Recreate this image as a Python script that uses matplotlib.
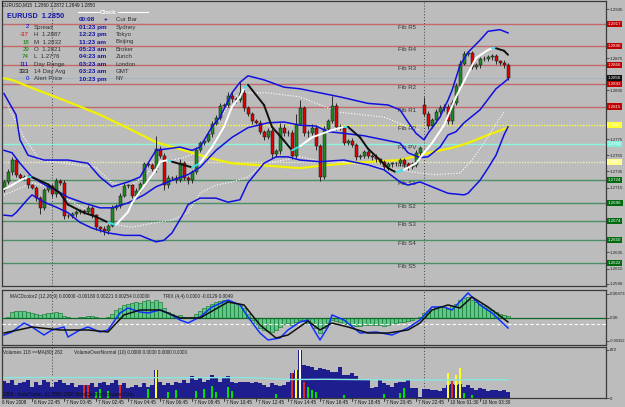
import matplotlib.pyplot as plt
from matplotlib.transforms import blended_transform_factory

plt.rcParams['font.family'] = ['Liberation Sans', 'DejaVu Sans']

W, H = 625, 407
BG = '#bcbcbc'

# ---- price data (EURUSD M15) ----
closes = [1.2722, 1.2734, 1.2749, 1.2731, 1.2727, 1.2728, 1.2718, 1.2715, 1.2702, 1.2690,
          1.2712, 1.2717, 1.2707, 1.2723, 1.2721, 1.2680, 1.2680, 1.2682, 1.2685, 1.2686,
          1.2685, 1.2690, 1.2681, 1.2666, 1.2664, 1.2661, 1.2668, 1.2690, 1.2692, 1.2705,
          1.2717, 1.2718, 1.2705, 1.2711, 1.2719, 1.2744, 1.2743, 1.2738, 1.2763, 1.2754,
          1.2718, 1.2727, 1.2727, 1.2724, 1.2745, 1.2727, 1.2724, 1.2734, 1.2761, 1.2770,
          1.2773, 1.2781, 1.2794, 1.2801, 1.2816, 1.2817, 1.2828, 1.2824, 1.2823, 1.2832,
          1.2813, 1.2806, 1.2797, 1.2795, 1.2784, 1.2777, 1.2785, 1.2756, 1.2760, 1.2789,
          1.2782, 1.2783, 1.2754, 1.2794, 1.2813, 1.2782, 1.2783, 1.2789, 1.2766, 1.2728,
          1.2787, 1.2797, 1.2816, 1.2790, 1.2789, 1.2770, 1.2773, 1.2768, 1.2753, 1.2754,
          1.2759, 1.2754, 1.2753, 1.2750, 1.2747, 1.2740, 1.2744, 1.2745, 1.2745, 1.2749,
          1.2744, 1.2740, 1.2743, 1.2758, 1.2764, 1.2806, 1.2791, 1.2798, 1.2808, 1.2813,
          1.2815, 1.2797, 1.2819, 1.2840, 1.2868, 1.2880, 1.2881, 1.2864, 1.2866, 1.2874,
          1.2874, 1.2876, 1.2877, 1.2871, 1.2869, 1.2866, 1.2850]
first_open = 1.2712
monday_bar = 105
monday_open = 1.2817

# wicks beyond the body, in pips
wick_up = [2, 4, 4, 2, 2, 3, 2, 2, 2, 3,
           3, 2, 3, 4, 2, 3, 2, 3, 2, 3,
           2, 3, 2, 2, 2, 3, 2, 4, 3, 3,
           4, 2, 2, 3, 3, 3, 3, 2, 16, 3,
           4, 3, 2, 3, 5, 3, 2, 3, 4, 3,
           3, 4, 3, 4, 4, 2, 5, 5, 3, 14,
           4, 3, 2, 3, 3, 2, 3, 4, 3, 6,
           4, 3, 3, 12, 10, 3, 3, 4, 3, 3,
           4, 3, 12, 3, 3, 2, 2, 3, 2, 2,
           2, 2, 2, 3, 2, 2, 2, 2, 2, 3,
           2, 2, 3, 3, 2, 10, 3, 3, 4, 4,
           3, 3, 4, 4, 5, 4, 3, 3, 3, 2,
           3, 3, 3, 3, 2, 3, 3]
wick_dn = [3, 2, 3, 3, 2, 3, 3, 2, 3, 8,
           3, 2, 3, 3, 3, 4, 3, 2, 3, 2,
           3, 2, 3, 3, 4, 4, 3, 2, 3, 2,
           2, 3, 3, 2, 3, 2, 3, 3, 4, 3,
           6, 3, 3, 3, 2, 3, 4, 3, 2, 2,
           2, 2, 3, 2, 2, 3, 2, 3, 3, 2,
           3, 3, 4, 2, 3, 3, 2, 4, 3, 3,
           3, 3, 4, 3, 2, 3, 4, 3, 4, 5,
           3, 3, 2, 4, 3, 3, 3, 3, 4, 3,
           3, 3, 4, 3, 3, 3, 3, 3, 3, 3,
           3, 3, 2, 2, 3, 3, 4, 3, 3, 3,
           3, 4, 3, 2, 2, 2, 3, 3, 3, 3,
           3, 3, 3, 3, 3, 3, 2]

# ---- indicators ----
bb_up_idx = [0, 3, 4, 6, 10, 16, 21, 24, 27, 31, 34, 36, 38, 44, 47, 49, 52, 54, 57, 59,
             61, 65, 70, 74, 78, 84, 91, 96, 99, 101, 103, 105, 106, 109, 110, 111, 112,
             114, 116, 119, 121, 124, 126]
bb_up = [1.2831, 1.2805, 1.2774, 1.2755, 1.2749, 1.2749, 1.2745, 1.2728, 1.2716, 1.2722,
         1.2728, 1.2745, 1.2761, 1.2765, 1.2761, 1.2765, 1.2790, 1.2802, 1.2832, 1.2845,
         1.2853, 1.2848, 1.2839, 1.2837, 1.2833, 1.2827, 1.2819, 1.2817, 1.2811, 1.2796,
         1.2782, 1.2774, 1.2782, 1.2802, 1.2813, 1.2823, 1.2835, 1.2866, 1.2882, 1.2897,
         1.2908, 1.2910, 1.2906]
bb_mid_idx = [0, 2, 4, 7, 11, 13, 16, 20, 24, 27, 31, 35, 38, 42, 46, 49, 53, 57, 61, 66,
              70, 74, 78, 81, 85, 90, 95, 99, 101, 104, 106, 109, 111, 113, 115, 119, 123, 126]
bb_mid = [1.2761, 1.2758, 1.2745, 1.2728, 1.2716, 1.2712, 1.2703, 1.2696, 1.2690, 1.2690,
          1.2696, 1.2706, 1.2716, 1.2724, 1.2731, 1.2740, 1.2761, 1.2777, 1.2789, 1.2795,
          1.2796, 1.2792, 1.2791, 1.2784, 1.2782, 1.2779, 1.2774, 1.2770, 1.2758, 1.2752,
          1.2753, 1.2765, 1.2780, 1.2784, 1.2795, 1.2811, 1.2837, 1.2849]
bb_lo_idx = [0, 2, 3, 6, 7, 10, 13, 16, 19, 22, 26, 30, 34, 38, 40, 42, 45, 46, 49, 53,
             56, 59, 61, 65, 68, 71, 74, 79, 85, 91, 95, 99, 101, 104, 107, 111, 115, 116,
             119, 121, 123, 125, 126]
bb_lo = [1.2681, 1.2680, 1.2684, 1.2701, 1.2706, 1.2697, 1.2691, 1.2684, 1.2672, 1.2665,
         1.2659, 1.2656, 1.2656, 1.2648, 1.2650, 1.2659, 1.2684, 1.2694, 1.2702, 1.2702,
         1.2697, 1.2700, 1.2721, 1.2745, 1.2753, 1.2753, 1.2749, 1.2747, 1.2749, 1.2743,
         1.2737, 1.2722, 1.2718, 1.2722, 1.2716, 1.2708, 1.2706, 1.2708, 1.2724, 1.2739,
         1.2755, 1.2780, 1.2790]
ma_idx = [0, 2, 7, 16, 24, 32, 38, 45, 51, 57, 66, 74, 79, 86, 95, 99, 107, 112, 116, 121, 126]
ma_val = [1.2850, 1.2848, 1.2838, 1.2821, 1.2805, 1.2786, 1.2771, 1.2761, 1.2752, 1.2745,
          1.2742, 1.2739, 1.2742, 1.2745, 1.2748, 1.2749, 1.2759, 1.2764, 1.2770, 1.2780,
          1.2789]
# trend line: W = rising (white), K = falling (black), C = turn (cyan)
hull_idx = [0, 2, 4, 6, 7, 11, 14, 16, 20, 23, 26, 28, 31, 32, 35, 38, 39, 41, 42, 47,
            49, 52, 55, 57, 59, 60, 61, 65, 67, 70, 72, 74, 77, 82, 85, 86, 89, 91, 94, 96,
            98, 100, 103, 105, 107, 110, 113, 116, 118, 121, 122, 123, 125, 126]
hull_val = [1.2713, 1.2718, 1.2724, 1.2728, 1.2728, 1.2719, 1.2708, 1.2694, 1.2684, 1.2679,
            1.2672, 1.2669, 1.2685, 1.2696, 1.2717, 1.2737, 1.2747, 1.2749, 1.2747, 1.2740,
            1.2745, 1.2765, 1.2790, 1.2815, 1.2827, 1.2838, 1.2842, 1.2817, 1.2790, 1.2773,
            1.2761, 1.2766, 1.2777, 1.2786, 1.2790, 1.2790, 1.2777, 1.2763, 1.2749, 1.2739,
            1.2734, 1.2737, 1.2745, 1.2758, 1.2770, 1.2792, 1.2827, 1.2856, 1.2875, 1.2885,
            1.2887, 1.2887, 1.2884, 1.2879]
hull_dir = ['W', 'W', 'W', 'C', 'K', 'K', 'K', 'K', 'K', 'K',
            'C', 'W', 'W', 'W', 'W', 'W', 'W', 'C', 'K', 'C',
            'W', 'W', 'W', 'W', 'W', 'C', 'K', 'K', 'K', 'K',
            'C', 'W', 'W', 'W', 'C', 'K', 'K', 'K', 'K', 'K',
            'C', 'W', 'W', 'W', 'W', 'W', 'W', 'W', 'W', 'W',
            'C', 'K', 'K', 'K']
dot_up_idx = [1, 5, 9, 18, 23, 27, 31, 35, 38, 45, 48, 52, 57, 59, 66, 74, 78, 84, 95, 101, 104]
dot_up = [1.2815, 1.2777, 1.2749, 1.2743, 1.2740, 1.2721, 1.2716, 1.2728, 1.2745, 1.2752,
          1.2758, 1.2786, 1.2823, 1.2832, 1.2832, 1.2827, 1.2819, 1.2808, 1.2802, 1.2790,
          1.2786]
dot_dn_idx = [0, 3, 7, 11, 16, 21, 26, 32, 37, 42, 46, 49, 53, 57, 61, 65, 70, 74, 78, 84,
              90, 98, 104, 108, 114, 117, 120, 122, 125]
dot_dn = [1.2706, 1.2712, 1.2721, 1.2716, 1.2700, 1.2687, 1.2671, 1.2666, 1.2671, 1.2675,
          1.2684, 1.2708, 1.2718, 1.2722, 1.2728, 1.2745, 1.2749, 1.2753, 1.2749, 1.2747,
          1.2743, 1.2737, 1.2733, 1.2731, 1.2733, 1.2749, 1.2770, 1.2786, 1.2808]

# ---- fibonacci pivot levels ----
fib_names = ['Fib R5', 'Fib R4', 'Fib R3', 'Fib R2', 'Fib R1', 'Fib R0', 'Fib PV', 'Fib S0',
             'Fib S1', 'Fib S2', 'Fib S3', 'Fib S4', 'Fib S5']
fib_levels = [1.2917, 1.2890, 1.2866, 1.2843, 1.2815, 1.2792, 1.2769, 1.2747,
              1.2724, 1.2696, 1.2674, 1.2650, 1.2622]
fib_kind = ['R', 'R', 'R', 'R', 'R', 'Y', 'P', 'Q', 'S', 'S', 'S', 'S', 'S']
last_price = 1.2850
price_ticks = [1.2935, 1.2875, 1.2835, 1.2775, 1.2755, 1.2735, 1.2715,
               1.2635, 1.2615, 1.2596]

# ---- MACD / TRIX panel ----
macd_hist = [0.0, 0.00016, 0.00093, 0.00109, 0.00109, 0.00109, 0.00093, 0.00078, 0.00062, 0.00047,
             0.00062, 0.00078, 0.00078, 0.00093, 0.00078, 0.00031, 0.00016, 0.0, 0.0, 0.00016,
             0.00016, 0.00031, 0.00031, 0.00016, 0.0, 0.0, 0.00016, 0.00062, 0.00124, 0.00155,
             0.00202, 0.00217, 0.00233, 0.00248, 0.00233, 0.00264, 0.00279, 0.00248, 0.00279, 0.00248,
             0.00155, 0.00093, 0.00062, 0.00031, 0.00047, 0.00016, 0.0, 0.00016, 0.00062, 0.00109,
             0.00155, 0.00186, 0.00217, 0.00248, 0.00264, 0.00279, 0.00264, 0.00248, 0.00233, 0.00217,
             0.00155, 0.00062, -0.00031, -0.00093, -0.00155, -0.00186, -0.00202, -0.00217, -0.00186, -0.00140,
             -0.00093, -0.00078, -0.00109, -0.00062, -0.00031, -0.00047, -0.00078, -0.00093, -0.00155, -0.00233,
             -0.00155, -0.00078, -0.00031, -0.00047, -0.00062, -0.00093, -0.00093, -0.00109, -0.00124, -0.00124,
             -0.00109, -0.00109, -0.00109, -0.00109, -0.00109, -0.00124, -0.00109, -0.00093, -0.00078, -0.00062,
             -0.00062, -0.00047, -0.00031, 0.0, 0.00016, 0.00078, 0.00109, 0.00140, 0.00171, 0.00186,
             0.00171, 0.00140, 0.00186, 0.00217, 0.00279, 0.00310, 0.00326, 0.00279, 0.00248, 0.00217,
             0.00186, 0.00155, 0.00124, 0.00093, 0.00062, 0.00047, 0.00031]
trix_idx = [0, 2, 5, 7, 10, 12, 15, 16, 19, 21, 24, 26, 29, 31, 34, 36, 39, 41, 44, 46,
            49, 52, 56, 59, 61, 64, 66, 69, 71, 74, 76, 79, 81, 82, 85, 89, 93, 97, 101, 104,
            107, 110, 112, 116, 119, 122, 126]
trix = [-0.00264, -0.00217, -0.00078, -0.00140, -0.00264, -0.00186, -0.00140, -0.00295, -0.00186, -0.00140,
        -0.00217, -0.00186, 0.00078, 0.00155, 0.00093, 0.00078, 0.00124, 0.00078, -0.00031, -0.00078,
        0.00016, 0.00171, 0.00279, 0.00202, 0.00016, -0.00233, -0.00341, -0.00310, -0.00186, -0.00062,
        -0.00031, -0.00341, -0.00140, 0.00047, -0.00031, -0.00233, -0.00217, -0.00264, -0.00155, -0.00031,
        0.00171, 0.00171, 0.00124, 0.00388, 0.00202, 0.00078, -0.00155]
sig_idx = [0, 7, 14, 21, 26, 30, 34, 39, 44, 49, 56, 60, 64, 68, 71, 76, 79, 82, 86, 91,
           96, 101, 104, 107, 111, 114, 117, 121, 126]
sig = [-0.00233, -0.00140, -0.00186, -0.00186, -0.00217, 0.00047, 0.00124, 0.00124, 0.0, 0.0,
       0.00248, 0.00202, -0.00109, -0.00310, -0.00264, -0.00047, -0.00186, -0.00078, -0.00140, -0.00233,
       -0.00233, -0.00186, -0.00078, 0.00124, 0.00202, 0.00155, 0.00326, 0.00171, -0.00062]
macd_level = -0.00093

# ---- volume panel ----
volumes = [310, 270, 330, 240, 270, 290, 330, 200, 290, 240,
           330, 290, 200, 290, 330, 270, 240, 270, 200, 240,
           240, 240, 270, 200, 270, 290, 240, 270, 330, 240,
           270, 180, 200, 240, 200, 270, 200, 240, 500, 290,
           240, 270, 240, 290, 270, 330, 270, 400, 330, 360,
           290, 330, 420, 360, 290, 360, 400, 290, 270, 290,
           290, 290, 270, 290, 270, 240, 200, 270, 240, 220,
           240, 290, 460, 500, 870, 600, 590, 570, 500, 540,
           530, 500, 480, 480, 570, 420, 420, 460, 400, 330,
           330, 330, 180, 200, 330, 270, 240, 200, 270, 290,
           290, 330, 180, 180, 10, 160, 160, 150, 140, 120,
           180, 230, 250, 230, 260, 200, 240, 180, 150, 180,
           160, 120, 150, 150, 130, 150, 100]
vol_ma_idx = [0, 20, 40, 61, 66, 72, 80, 95, 110, 126]
vol_ma = [370, 372, 368, 370, 355, 335, 340, 330, 330, 332]
over_idx = [20, 21, 23, 24, 26, 29, 36, 38, 41, 43, 48, 50, 52, 53, 56, 57, 68, 72, 73, 74,
            75, 76, 77, 78, 85, 95, 99, 100, 111, 112, 113, 114, 115, 117]
over_vol = [240, 240, 110, 170, 120, 240, 160, 500, 100, 140, 130, 160, 220, 110, 200, 120, 80, 460, 500, 870,
            290, 200, 140, 110, 60, 70, 90, 180, 460, 310, 420, 540, 90, 60]
over_kind = ['r', 'r', 'g', 'g', 'g', 'r', 'g', 'y', 'g', 'g', 'g', 'g', 'g', 'g', 'g', 'g', 'g', 'r', 'y', 'w',
             'r', 'g', 'g', 'g', 'g', 'g', 'g', 'g', 'y', 'r', 'y', 'y', 'g', 'g']

time_idx = [7, 15, 23, 31, 39, 47, 55, 63, 71, 79, 87, 95, 103, 111, 119]
time_labels = ['6 Nov 22:45', '7 Nov 00:45', '7 Nov 02:45', '7 Nov 04:45', '7 Nov 06:45',
               '7 Nov 08:45', '7 Nov 10:45', '7 Nov 12:45', '7 Nov 14:45', '7 Nov 16:45',
               '7 Nov 18:45', '7 Nov 20:45', '7 Nov 22:45', '10 Nov 01:30', '10 Nov 03:30']
day_breaks = [12, 105]

# ---- info panel ----
info_nums = ['2', '-37', '18', '29', '74', '111', '333', '0']
info_num_col = ['#0000c8', '#e00000', '#008000', '#008000', '#008000', '#0000c8', '#000000', '#0000c8']
info_keys = ['Spread', 'H  1.2887', 'M  1.2832', 'O  1.2821', 'L  1.2776', 'Day Range',
             '14 Day Avg', 'Alert Price']
info_times = ['01:23 pm', '12:23 pm', '11:23 am', '05:23 am', '04:23 am', '03:23 am',
              '03:23 am', '10:23 pm']
info_cities = ['Sydney', 'Tokyo', 'Beijing', 'Broker', 'Zurich', 'London', 'GMT', 'NY']

SMALL = 3.4


def box(x0, y0, x1, y1):
    return [x0 / W, 1 - y1 / H, (x1 - x0) / W, (y1 - y0) / H]


fig = plt.figure(figsize=(W / 100, H / 100), dpi=100, facecolor=BG)


def ftext(x, y, s, **kw):
    fig.text(x / W, 1 - y / H, s, va='center', **kw)


def style(a):
    a.set_facecolor(BG)
    a.set_xlim(-0.5, 150.5)
    for s in a.spines.values():
        s.set_color('#3a3a3a')
        s.set_linewidth(0.9)
    a.tick_params(axis='x', bottom=False, labelbottom=False)
    a.yaxis.tick_right()
    a.tick_params(axis='y', labelsize=3.2, length=2, width=0.5, pad=0.8, colors='#202020')
    for d in day_breaks:
        a.axvline(d, color='#404040', lw=0.7, ls=(0, (1, 2)), zorder=1)


# ================= main price panel =================
ax = fig.add_axes(box(2, 1, 606, 286))
style(ax)
ax.set_ylim(1.25935, 1.29454)
ax.set_yticks(price_ticks)
ax.set_yticklabels(['%.4f' % p for p in price_ticks])

line_style = {'R': ('#c46a6a', '-'), 'S': ('#4b8f62', '-'), 'P': ('#86f5dc', '-'),
              'Y': ('#ffff40', (0, (1, 1))), 'Q': ('#eef0c0', (0, (1, 1)))}
box_style = {'R': ('#c00000', 'white'), 'S': ('#006a10', 'white'), 'P': ('#80f0dc', 'white'),
             'Y': ('#ffff30', 'white'), 'Q': ('#ffff90', 'white')}
tr = blended_transform_factory(ax.transAxes, ax.transData)
for name, lvl, k in zip(fib_names, fib_levels, fib_kind):
    col, ls = line_style[k]
    ax.axhline(lvl, color=col, lw=1, ls=ls, zorder=1)
    ax.annotate(name, (98.5, lvl), xytext=(0, -0.8), textcoords='offset points',
                fontsize=4.4, color='#333333', va='top', ha='left', zorder=2)
    fc, tc = box_style[k]
    ax.text(1.003, lvl, '%.4f' % lvl, transform=tr, fontsize=3.2, color=tc, va='center',
            ha='left', clip_on=False, zorder=10,
            bbox=dict(boxstyle='square,pad=0.25', fc=fc, ec='none'))
ax.axhline(last_price, color='#9eb4c8', lw=0.6, zorder=1)
ax.text(1.003, last_price, '%.4f' % last_price, transform=tr, fontsize=3.2, color='white',
        va='center', ha='left', clip_on=False, zorder=11,
        bbox=dict(boxstyle='square,pad=0.25', fc='#101010', ec='none'))

# indicators
ax.plot(ma_idx, ma_val, color='#f2f200', lw=1.6, zorder=3)
ax.plot(dot_up_idx, dot_up, color='white', lw=0.8, ls=(0, (1, 1.5)), zorder=3)
ax.plot(dot_dn_idx, dot_dn, color='white', lw=0.8, ls=(0, (1, 1.5)), zorder=3)
for vals, ix in ((bb_up, bb_up_idx), (bb_mid, bb_mid_idx), (bb_lo, bb_lo_idx)):
    ax.plot(ix, vals, color='#1010e0', lw=1.1, zorder=6)
hull_colors = {'W': 'white', 'K': '#101010', 'C': '#40e0e8'}
for k in range(len(hull_idx) - 1):
    ax.plot(hull_idx[k:k + 2], hull_val[k:k + 2], color=hull_colors[hull_dir[k]],
            lw=1.4, solid_capstyle='round', zorder=6)

# candles
idx = list(range(len(closes)))
opens = [first_open] + closes[:-1]
opens[monday_bar] = monday_open
highs = [max(o, c) + u / 10000 for o, c, u in zip(opens, closes, wick_up)]
lows = [min(o, c) - d / 10000 for o, c, d in zip(opens, closes, wick_dn)]
ax.vlines(idx, lows, highs, color='#151515', lw=0.6, zorder=4)
ax.bar(idx, [max(abs(c - o), 0.00004) for o, c in zip(opens, closes)],
       bottom=[min(o, c) for o, c in zip(opens, closes)], width=0.75,
       color=['#208a20' if c >= o else '#e00000' for o, c in zip(opens, closes)],
       edgecolor='#151515', lw=0.35, zorder=5)

# ================= MACD / TRIX panel =================
ax2 = fig.add_axes(box(2, 290, 606, 345))
style(ax2)
ax2.set_ylim(-0.00419, 0.00434)
ax2.set_yticks([0.00373, 0.0, -0.00352])
ax2.set_yticklabels(['0.00373', '0.00', '-0.00352'])
ax2.get_yticklabels()[2].set_fontsize(2.9)
ax2.bar(idx, macd_hist, width=0.95, color='#5cc98a', edgecolor='#0b6b24', lw=0.4, zorder=2)
ax2.axhline(0, color='#0b6b24', lw=0.9, zorder=3)
ax2.axhline(macd_level, color='white', lw=0.8, ls=(0, (3, 2)), zorder=3)
ax2.plot(trix_idx, trix, color='#1030ff', lw=1.1, zorder=4)
ax2.plot(sig_idx, sig, color='#101010', lw=1.1, zorder=4)
ax2.text(0.014, 0.88, 'MACDcolor2 (12,26,9) 0.00000 -0.00180 0.00221 0.00254 0.00000',
         transform=ax2.transAxes, fontsize=SMALL, color='#202020', va='center')
ax2.text(0.267, 0.88, 'TRIX (4,4) 0.0000 -0.0129 0.0049', transform=ax2.transAxes,
         fontsize=SMALL, color='#202020', va='center')

# ================= volume panel =================
ax3 = fig.add_axes(box(2, 347, 606, 398))
style(ax3)
ax3.set_ylim(0, 926)
ax3.set_yticks([872, 0])
ax3.set_yticklabels(['872', '0'])
ax3.bar(idx, volumes, width=0.78, color='#1e1e8e', zorder=2)
over_colors = {'g': '#00e000', 'r': '#e02828', 'y': '#ffff20', 'w': 'white'}
ax3.bar(over_idx, over_vol, width=0.4, color=[over_colors[k] for k in over_kind], zorder=3)
ax3.plot(vol_ma_idx, vol_ma, color='#86e8e0', lw=1, zorder=4)
ax3.text(0.002, 0.9, 'Volumes 118 ==MA(80) 282', transform=ax3.transAxes,
         fontsize=SMALL, color='#202020', va='center')
ax3.text(0.12, 0.9, 'VolumeOverNormal (10) 0.0000 0.0000 0.0000 0.0000',
         transform=ax3.transAxes, fontsize=SMALL, color='#202020', va='center')
ax3.text(0.002, 0.07, '2005 - InstaTrader, (c) 2001-2008 MetaQuotes Software Corp.',
         transform=ax3.transAxes, fontsize=SMALL, color='#101010', va='center', zorder=6)

trx = blended_transform_factory(ax3.transData, ax3.transAxes)
ax3.text(-0.4, -0.04, '6 Nov 2008', transform=trx, fontsize=SMALL, va='top', ha='left',
         color='#101010', clip_on=False)
for i, lab in zip(time_idx, time_labels):
    ax3.plot([i, i], [0, -0.06], transform=trx, color='#303030', lw=0.6, clip_on=False)
    ax3.text(i + 0.4, -0.04, lab, transform=trx, fontsize=SMALL, va='top', ha='left',
             color='#101010', clip_on=False)

# ================= header and info block =================
ftext(2, 5, 'EURUSD,M15  1.2860 1.2872 1.2849 1.2850', fontsize=3.3, color='#101010')
ftext(7, 17, 'EURUSD  1.2850', fontsize=5.2, color='#1414a8', fontweight='bold')
fig.add_artist(plt.Line2D([78 / W, 99 / W], [1 - 12 / H] * 2, color='white', lw=0.8))
fig.add_artist(plt.Line2D([118 / W, 148 / W], [1 - 12 / H] * 2, color='white', lw=0.8))
ftext(108.5, 12, 'Clock', fontsize=4.4, color='white', fontweight='bold', ha='center')
ftext(79, 19.5, '00:08', fontsize=4.6, color='#1414a8', fontweight='bold')
ftext(104, 19.5, '+', fontsize=4.6, color='#1414a8', fontweight='bold')
ftext(116, 19.5, 'Cur Bar', fontsize=4.4, color='#303030')
row_y = [27, 34.5, 42, 49.5, 57, 64.5, 71.5, 79]
for y, n, nc, k, t, c in zip(row_y, info_nums, info_num_col, info_keys, info_times, info_cities):
    ftext(29, y, n, fontsize=4.4, color=nc, ha='right')
    ftext(34, y, k, fontsize=4.4, color='#303030')
    ftext(79, y, t, fontsize=4.6, color='#1414a8', fontweight='bold')
    ftext(116, y, c, fontsize=4.4, color='#303030')

fig.savefig('out.png', dpi=100, facecolor=BG)
